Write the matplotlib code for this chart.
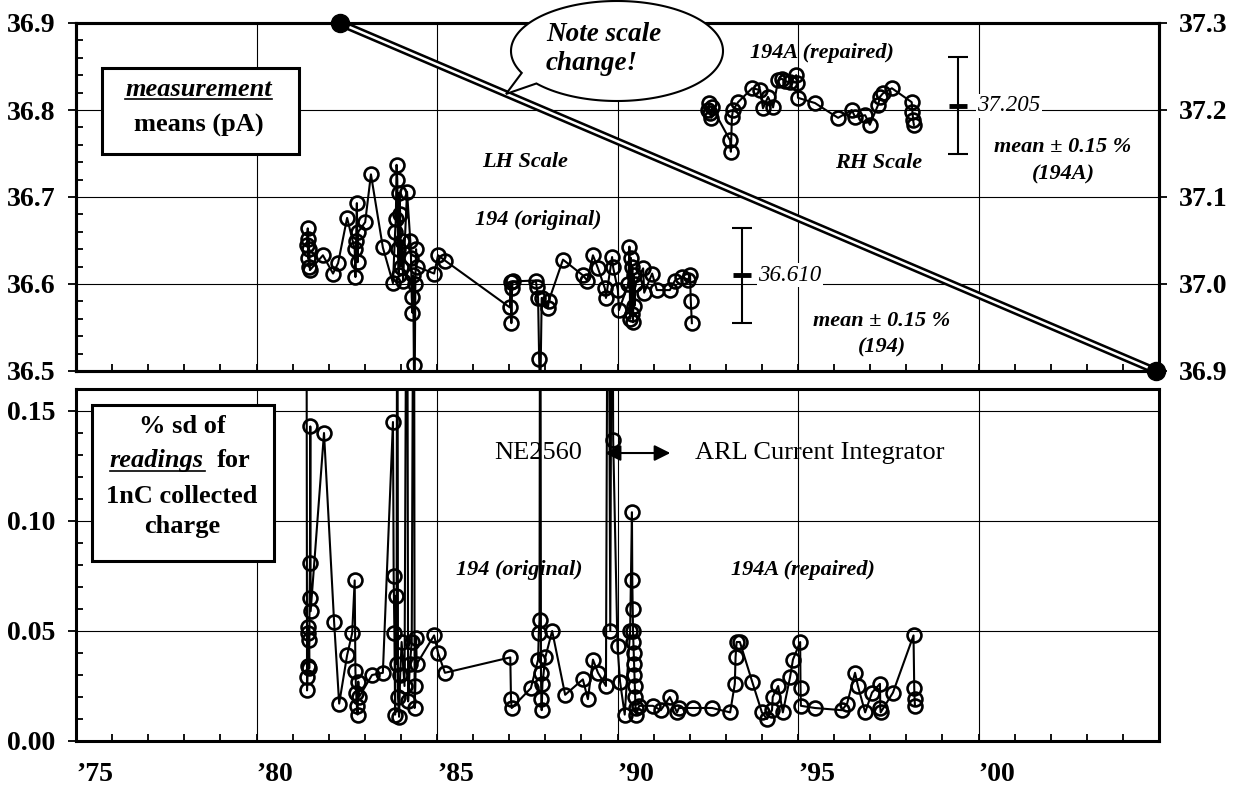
import numpy as np
import matplotlib.pyplot as plt
import matplotlib.transforms as mtransforms
from matplotlib.patches import Rectangle, Polygon
from matplotlib.ticker import MultipleLocator

plt.rcParams['font.family'] = ['Liberation Serif', 'DejaVu Serif']

# ---- data: 194 (original) measurement means, LH scale (pA)
yr_194 = [1981.40, 1981.42, 1981.43, 1981.44, 1981.45, 1981.46, 1981.48, 1981.84, 1982.12, 1982.26, 1982.51,
          1982.72, 1982.74, 1982.76, 1982.78, 1982.80, 1982.82, 1983.01, 1983.17, 1983.50, 1983.78,
          1983.84, 1983.86, 1983.88, 1983.90, 1983.92, 1983.94, 1983.96, 1983.98, 1984.00, 1984.03, 1984.06, 1984.17,
          1984.26, 1984.28, 1984.30, 1984.32, 1984.34, 1984.36, 1984.38, 1984.40, 1984.42, 1984.44,
          1984.92, 1985.03, 1985.22,
          1987.02, 1987.04, 1987.06, 1987.08, 1987.10,
          1987.74, 1987.76, 1987.80, 1987.83, 1987.86, 1987.90, 1988.07, 1988.10,
          1988.49, 1989.04, 1989.16, 1989.32, 1989.46, 1989.65, 1989.68, 1989.85, 1989.88, 1990.01, 1990.04,
          1990.30, 1990.33, 1990.35, 1990.37, 1990.39, 1990.41, 1990.43, 1990.45, 1990.47, 1990.49,
          1990.71, 1990.74, 1990.96, 1991.09, 1991.45, 1991.59, 1991.79, 1991.95, 1992.01, 1992.03, 1992.06]
mean_194_pts = [36.645, 36.664, 36.630, 36.652, 36.620, 36.640, 36.616, 36.633, 36.612, 36.624, 36.676,
                36.640, 36.608, 36.650, 36.693, 36.625, 36.660, 36.671, 36.726, 36.642, 36.601,
                36.660, 36.675, 36.737, 36.720, 36.640, 36.610, 36.705, 36.680, 36.620, 36.650, 36.604, 36.706,
                36.650, 36.630, 36.585, 36.567, 36.610, 36.507, 36.470, 36.600, 36.640, 36.620,
                36.612, 36.633, 36.627,
                36.573, 36.602, 36.555, 36.595, 36.603,
                36.604, 36.596, 36.584, 36.514, 36.470, 36.584, 36.572, 36.581,
                36.628, 36.610, 36.604, 36.633, 36.618, 36.595, 36.584, 36.631, 36.619, 36.593, 36.570,
                36.600, 36.643, 36.560, 36.630, 36.565, 36.620, 36.556, 36.610, 36.575, 36.600,
                36.618, 36.590, 36.612, 36.593, 36.593, 36.604, 36.608, 36.605, 36.610, 36.581, 36.555]

# ---- 194A (repaired) measurement means, RH scale (pA)
yr_194A = [1992.50, 1992.53, 1992.56, 1992.60, 1992.62, 1993.12, 1993.14, 1993.17, 1993.20, 1993.34, 1993.73,
           1993.95, 1994.03, 1994.17, 1994.31, 1994.45, 1994.55, 1994.64, 1994.78, 1994.95, 1994.98, 1995.00,
           1995.47, 1996.11, 1996.49, 1996.58, 1996.86, 1996.99, 1997.22, 1997.27, 1997.35, 1997.60,
           1998.15, 1998.17, 1998.19, 1998.21]
mean_194A_pts = [37.200, 37.208, 37.196, 37.191, 37.203, 37.165, 37.152, 37.192, 37.200, 37.209, 37.225,
                 37.223, 37.202, 37.215, 37.203, 37.234, 37.236, 37.233, 37.232, 37.240, 37.231, 37.214,
                 37.208, 37.191, 37.200, 37.192, 37.194, 37.183, 37.206, 37.215, 37.219, 37.225,
                 37.209, 37.198, 37.188, 37.183]

# ---- % sd of readings for 1nC collected charge (off-scale points go past the top)
yr_sd = [1981.38, 1981.40, 1981.41, 1981.42, 1981.43, 1981.44, 1981.45, 1981.46, 1981.47, 1981.48, 1981.49, 1981.50,
         1981.87, 1982.15, 1982.29, 1982.51, 1982.65,
         1982.72, 1982.74, 1982.76, 1982.78, 1982.80, 1982.82, 1982.84,
         1983.20, 1983.50, 1983.78, 1983.80, 1983.82, 1983.84, 1983.86, 1983.88, 1983.90, 1983.92, 1983.95, 1983.98,
         1984.02, 1984.10, 1984.17, 1984.20, 1984.25, 1984.30, 1984.36, 1984.38, 1984.40, 1984.42, 1984.44,
         1984.92, 1985.03, 1985.22,
         1987.03, 1987.05, 1987.07, 1987.60, 1987.80, 1987.82, 1987.84, 1987.86, 1987.88, 1987.89, 1987.90, 1987.92,
         1988.00, 1988.19, 1988.55, 1989.04, 1989.18, 1989.32, 1989.46, 1989.68, 1989.74, 1989.80, 1989.85, 1989.88,
         1990.00, 1990.07, 1990.20, 1990.35, 1990.40, 1990.41, 1990.42, 1990.43, 1990.44, 1990.45, 1990.46, 1990.47,
         1990.48, 1990.49, 1990.50, 1990.52, 1990.60, 1990.98, 1991.20, 1991.45, 1991.65, 1991.70, 1992.09,
         1992.62, 1993.12, 1993.25, 1993.27, 1993.30, 1993.39, 1993.73, 1994.00, 1994.14, 1994.28, 1994.30, 1994.45,
         1994.58, 1994.78, 1994.86, 1995.06, 1995.07, 1995.08, 1995.47, 1996.22, 1996.36, 1996.58, 1996.66, 1996.86,
         1997.05, 1997.27, 1997.28, 1997.29, 1997.63, 1998.20, 1998.22, 1998.23, 1998.24]
sd_pct = [0.30, 0.023, 0.029, 0.034, 0.049, 0.052, 0.046, 0.033, 0.065, 0.081, 0.143, 0.059,
          0.140, 0.054, 0.017, 0.039, 0.049,
          0.073, 0.032, 0.022, 0.016, 0.012, 0.027, 0.020,
          0.030, 0.031, 0.145, 0.075, 0.049, 0.012, 0.066, 0.035, 0.30, 0.020, 0.011, 0.030,
          0.045, 0.025, 0.30, 0.018, 0.035, 0.045, 0.30, 0.015, 0.025, 0.047, 0.035,
          0.048, 0.040, 0.031,
          0.038, 0.019, 0.015, 0.024, 0.037, 0.049, 0.055, 0.30, 0.031, 0.019, 0.014, 0.026,
          0.038, 0.050, 0.021, 0.028, 0.019, 0.037, 0.031, 0.025, 0.30, 0.050, 0.30, 0.137,
          0.043, 0.027, 0.012, 0.050, 0.104, 0.073, 0.060, 0.050, 0.045, 0.040, 0.035, 0.030,
          0.025, 0.020, 0.015, 0.012, 0.016, 0.016, 0.014, 0.020, 0.013, 0.015, 0.015,
          0.015, 0.013, 0.026, 0.038, 0.045, 0.045, 0.027, 0.013, 0.010, 0.014, 0.020, 0.025,
          0.013, 0.029, 0.037, 0.045, 0.024, 0.016, 0.015, 0.014, 0.017, 0.031, 0.025, 0.013,
          0.022, 0.026, 0.015, 0.013, 0.022, 0.048, 0.024, 0.019, 0.016]

mean_194 = 36.610
mean_194A = 37.205
band_pct = 0.15

lh_ticks = [36.5, 36.6, 36.7, 36.8, 36.9]
rh_ticks = [36.9, 37.0, 37.1, 37.2, 37.3]
sd_ticks = [0.00, 0.05, 0.10, 0.15]
year_ticks = [1975, 1980, 1985, 1990, 1995, 2000]
year_labels = ['\u201975', '\u201980', '\u201985', '\u201990', '\u201995', '\u201900']

W, H = 1239, 794
fig = plt.figure(figsize=(W / 100, H / 100), dpi=100)
ax1 = fig.add_axes([76 / W, 1 - 371 / H, (1159 - 76) / W, (371 - 23) / H])
ax2 = fig.add_axes([76 / W, 1 - 741 / H, (1159 - 76) / W, (741 - 389) / H])
ax1r = ax1.twinx()

line_kw = dict(color='black', lw=1.5, marker='o', ms=10, mfc='none', mec='black', mew=1.9)


def style_axes(ax):
    for s in ax.spines.values():
        s.set_linewidth(2.2)
    ax.set_xlim(1975, 2005)
    ax.xaxis.set_major_locator(MultipleLocator(5))
    ax.xaxis.set_minor_locator(MultipleLocator(1))
    ax.tick_params(axis='x', which='both', direction='in', length=5, width=1.3)
    ax.tick_params(axis='y', which='major', direction='out', length=6, width=1.3, labelsize=20, pad=9)
    ax.tick_params(axis='y', which='minor', direction='in', length=5, width=1.3)
    ax.grid(True, which='major', color='black', lw=0.8)


# top panel (LH scale)
style_axes(ax1)
ax1.set_ylim(36.5, 36.9)
ax1.set_yticks(lh_ticks, ['%.1f' % v for v in lh_ticks], fontweight='bold')
ax1.yaxis.set_minor_locator(MultipleLocator(0.02))
ax1.tick_params(axis='x', labelbottom=False)
ax1.plot(yr_194, mean_194_pts, **line_kw)

# top panel (RH scale)
ax1r.set_ylim(36.9, 37.3)
ax1r.set_yticks(rh_ticks, ['%.1f' % v for v in rh_ticks], fontweight='bold')
ax1r.tick_params(axis='y', direction='out', length=6, width=1.3, labelsize=20, pad=8)
for s in ax1r.spines.values():
    s.set_linewidth(2.2)
ax1r.plot(yr_194A, mean_194A_pts, **line_kw)

# mean +/- 0.15 % bars
ax1.errorbar([1993.45], [mean_194], yerr=[mean_194 * band_pct / 100], color='black',
             capsize=7, capthick=1.5, elinewidth=1.5)
ax1.plot([1993.45], [mean_194], marker='_', ms=13, mew=3.5, color='black')
ax1r.errorbar([1999.43], [mean_194A], yerr=[mean_194A * band_pct / 100], color='black',
              capsize=7, capthick=1.5, elinewidth=1.5)
ax1r.plot([1999.43], [mean_194A], marker='_', ms=13, mew=3.5, color='black')

ax1.text(1993.89, mean_194, '%.3f' % mean_194, fontsize=16.5, style='italic', va='center', ha='left',
         bbox=dict(fc='white', ec='none', pad=1), zorder=4)
ax1r.text(1999.96, mean_194A, '%.3f' % mean_194A, fontsize=16.5, style='italic', va='center', ha='left',
          bbox=dict(fc='white', ec='none', pad=1), zorder=4)

lab = dict(fontsize=16, style='italic', fontweight='bold', ha='center', va='center')
ax1.text(1987.44, 36.740, 'LH Scale', **lab)
ax1.text(1987.80, 36.673, '194 (original)', **lab)
ax1.text(1995.67, 36.865, '194A (repaired)', **lab)
ax1.text(1997.24, 36.739, 'RH Scale', **lab)
ax1.text(2002.34, 36.758, 'mean \u00b1 0.15 %', **lab)
ax1.text(2002.34, 36.726, '(194A)', **lab)
ax1.text(1997.33, 36.558, 'mean \u00b1 0.15 %', **lab)
ax1.text(1997.33, 36.527, '(194)', **lab)

# box: measurement means
ax1.add_patch(Rectangle((1975.72, 36.749), 5.46, 0.099, fc='white', ec='black', lw=2.2, zorder=3))
ax1.text(1978.40, 36.816, 'measurement', fontsize=19, style='italic', fontweight='bold',
         ha='center', va='baseline', zorder=4)
ax1.plot([1976.36, 1980.43], [36.8125, 36.8125], color='black', lw=1.2, zorder=4)
ax1.text(1978.40, 36.775, 'means (pA)', fontsize=19, fontweight='bold', ha='center', va='baseline', zorder=4)

# scale change line (RH coordinates)
ax1r.plot([1982.31, 2004.92], [37.3, 36.9], color='black', lw=5.5, clip_on=False,
          solid_capstyle='butt', zorder=6)
ax1r.plot([1982.31, 2004.92], [37.3, 36.9], color='white', lw=1.8, clip_on=False,
          solid_capstyle='butt', zorder=7)
ax1r.plot([1982.31, 2004.92], [37.3, 36.9], 'o', color='black', ms=13, clip_on=False, zorder=8)

# speech bubble (pixel coordinates from the top-left)
to_fig = mtransforms.Affine2D().scale(1 / W, -1 / H).translate(0, 1) + fig.transFigure
th = np.radians(np.linspace(154, 499.5, 240))
pts = list(zip(617 + 106 * np.cos(th), 51 + 50 * np.sin(th))) + [(506, 94)]
fig.add_artist(Polygon(pts, closed=True, transform=to_fig, fc='white', ec='black', lw=1.5, zorder=10))
fig.text(546, 49, 'Note scale\nchange!', transform=to_fig, fontsize=19.5, style='italic', fontweight='bold',
         ha='left', va='center', linespacing=1.25, zorder=11)

# bottom panel
style_axes(ax2)
ax2.set_ylim(0, 0.16)
ax2.set_yticks(sd_ticks, ['%.2f' % v for v in sd_ticks], fontweight='bold')
ax2.yaxis.set_minor_locator(MultipleLocator(0.01))
ax2.set_xticks(year_ticks, year_labels, fontweight='bold', fontsize=20)
ax2.xaxis.set_minor_locator(MultipleLocator(1))
ax2.tick_params(axis='x', which='major', pad=15)
for t in ax2.get_xticklabels():
    t.set_ha('left')
ax2.plot(yr_sd, sd_pct, **line_kw)

ax2.text(1989.02, 0.1309, 'NE2560', fontsize=19, ha='right', va='center')
ax2.annotate('', xy=(1991.54, 0.1309), xytext=(1989.57, 0.1309),
             arrowprops=dict(arrowstyle='<|-|>', color='black', lw=1.5, mutation_scale=24))
ax2.text(1992.15, 0.1309, 'ARL Current Integrator', fontsize=19, ha='left', va='center')
ax2.text(1987.27, 0.0777, '194 (original)', **lab)
ax2.text(1995.14, 0.0777, '194A (repaired)', **lab)

# box: % sd of readings
ax2.add_patch(Rectangle((1975.44, 0.0818), 5.04, 0.0709, fc='white', ec='black', lw=2.2, zorder=3))
box_txt = dict(fontsize=19, fontweight='bold', va='baseline', zorder=4)
ax2.text(1977.94, 0.1400, '% sd of', ha='center', **box_txt)
ax2.text(1975.94, 0.12455, 'readings', ha='left', style='italic', **box_txt)
ax2.plot([1975.94, 1978.57], [0.1227, 0.1227], color='black', lw=1.2, zorder=4)
ax2.text(1978.91, 0.12455, 'for', ha='left', **box_txt)
ax2.text(1977.94, 0.1082, '1nC collected', ha='center', **box_txt)
ax2.text(1977.94, 0.0945, 'charge', ha='center', **box_txt)

plt.savefig('out.png', dpi=100)
